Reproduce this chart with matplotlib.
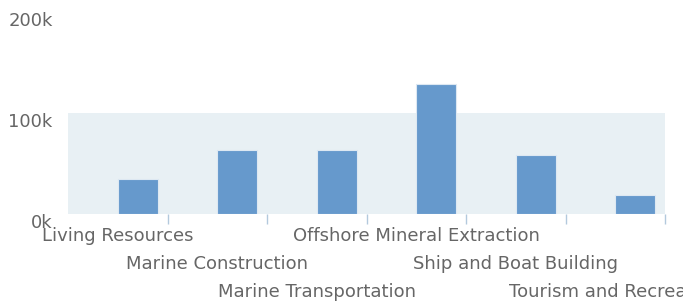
import matplotlib
matplotlib.use("Agg")
import matplotlib.pyplot as plt
from matplotlib.ticker import FuncFormatter

plt.rcParams["font.family"] = ["DejaVu Sans"]

categories = ["Living Resources", "Marine Construction", "Marine Transportation",
              "Offshore Mineral Extraction", "Ship and Boat Building",
              "Tourism and Recreation"]
values = [35000, 63500, 63500, 128500, 58500, 19000]
yticks = [0, 100000, 200000]

bar_color = "#6699cc"
band_color = "#e8f0f4"
text_color = "#666666"
tick_color = "#b3c9dd"

fig = plt.figure(figsize=(6.83, 3.03), dpi=100)
ax = fig.add_axes([68 / 683, 89 / 303, 597 / 683, 202 / 303])

n = len(categories)
ax.set_xlim(-0.5, n - 0.5)
ax.set_ylim(0, 200000)

# shaded band 0-100k
ax.axhspan(0, 100000, color=band_color, zorder=0, lw=0)

xs = list(range(n))
ax.bar(xs, values, width=0.4, align="edge", color=bar_color,
       edgecolor="#dde8f2", linewidth=0.8, zorder=2)

for s in ax.spines.values():
    s.set_visible(False)

ax.set_yticks(yticks)
ax.yaxis.set_major_formatter(FuncFormatter(lambda v, p: "%dk" % (v / 1000)))
ax.tick_params(axis="y", length=0, pad=11, labelsize=13, labelcolor=text_color)
for lab in ax.get_yticklabels():
    lab.set_verticalalignment("top")

# boundary ticks
ax.set_xticks([i + 0.5 for i in range(n)])
ax.set_xticklabels([])
ax.tick_params(axis="x", length=7, width=1.0, color=tick_color, direction="out")

# staggered category labels
for i, name in enumerate(categories):
    row = i % 3
    ax.annotate(name, xy=(i, 0), xycoords=("data", "axes fraction"),
                xytext=(0, -15.5 - row * 20.5), textcoords="offset points",
                ha="center", va="center", fontsize=13, color=text_color,
                annotation_clip=False)

fig.savefig("out.png", dpi=100)
